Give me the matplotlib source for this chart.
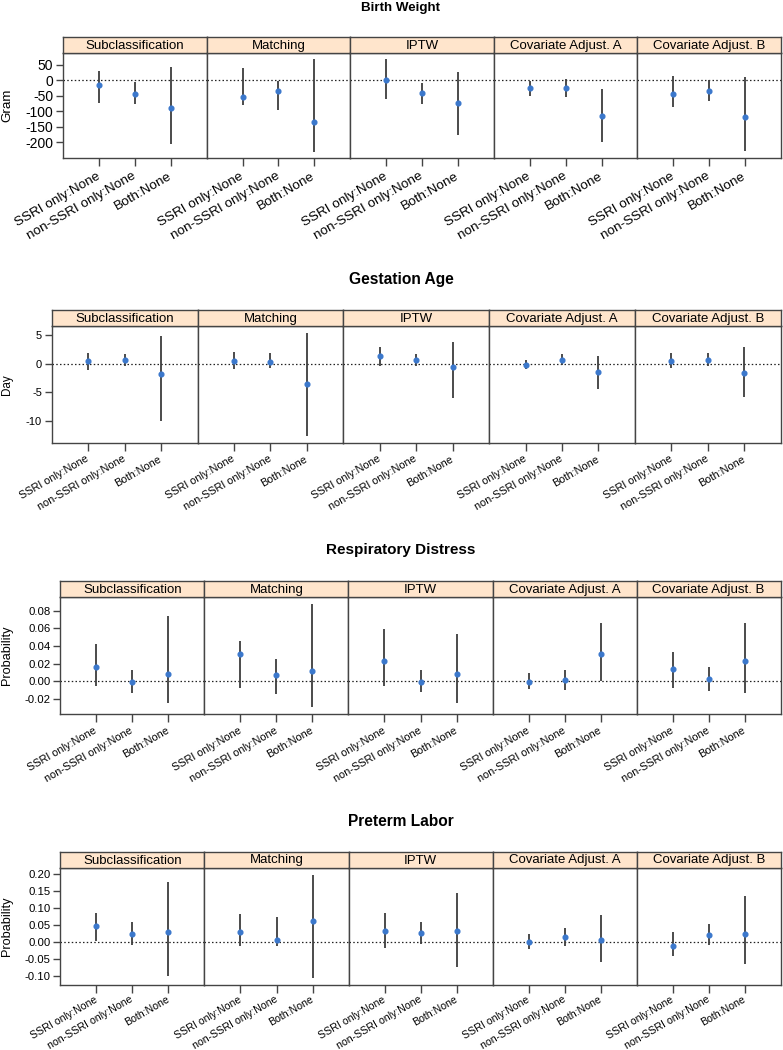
import numpy as np
import matplotlib
matplotlib.use("Agg")
import matplotlib.pyplot as plt

plt.rcParams['font.family'] = ['Liberation Sans', 'DejaVu Sans']
plt.rcParams['axes.unicode_minus'] = False

# --- Data ---
methods = ["Subclassification", "Matching", "IPTW", "Covariate Adjust. A", "Covariate Adjust. B"]
groups = ["SSRI only:None", "non-SSRI only:None", "Both:None"]

# Birth weight (gram): one row per method, one column per group
bw_est = [[-17, -44, -91], [-54, -35, -135], [2, -42, -72], [-26, -25, -116], [-43, -35, -119]]
bw_lo = [[-75, -78, -207], [-79, -95, -230], [-62, -77, -176], [-52, -55, -200], [-85, -66, -229]]
bw_hi = [[31, -6, 42], [38, -1, 67], [67, -8, 25], [-1, 4, -29], [15, 2, 9]]

# Gestation age (day)
ga_est = [[0.47, 0.7, -1.8], [0.52, 0.3, -3.54], [1.3, 0.7, -0.58], [-0.17, 0.7, -1.45], [0.42, 0.7, -1.57]]
ga_lo = [[-1.1, -0.45, -10.1], [-0.93, -0.8, -12.6], [-0.5, -0.5, -6.0], [-0.98, -0.3, -4.4], [-0.7, -0.35, -5.75]]
ga_hi = [[1.8, 1.75, 4.8], [2.0, 1.9, 5.3], [2.86, 1.75, 3.8], [0.6, 1.64, 1.3], [1.87, 1.87, 2.86]]

# Respiratory distress (probability)
rd_est = [[0.0166, -0.0011, 0.0087], [0.0313, 0.0068, 0.0117], [0.0227, -0.0004, 0.0087],
          [-0.0004, 0.0011, 0.031], [0.014, 0.0023, 0.0234]]
rd_lo = [[-0.0053, -0.0132, -0.0242], [-0.0072, -0.0147, -0.0287], [-0.0057, -0.0121, -0.0245],
         [-0.009, -0.0102, 0.0], [-0.0079, -0.0113, -0.0132]]
rd_hi = [[0.0427, 0.0125, 0.074], [0.0457, 0.0249, 0.0876], [0.0593, 0.0128, 0.0533],
         [0.0094, 0.0128, 0.0661], [0.0336, 0.0159, 0.0661]]

# Preterm labor (probability)
pl_est = [[0.0468, 0.0253, 0.0292], [0.0292, 0.0078, 0.0623], [0.0341, 0.0263, 0.0331],
          [0.001, 0.0146, 0.0078], [-0.0107, 0.0205, 0.0243]]
pl_lo = [[0.0049, -0.0088, -0.0993], [-0.0107, -0.0117, -0.1032], [-0.0175, -0.0058, -0.0711],
         [-0.0195, -0.0117, -0.0584], [-0.039, -0.0088, -0.0633]]
pl_hi = [[0.0847, 0.0594, 0.1773], [0.0828, 0.073, 0.1977], [0.0857, 0.0594, 0.1451],
         [0.0234, 0.0419, 0.0799], [0.0292, 0.0536, 0.1344]]

titles = ["Birth Weight", "Gestation Age", "Respiratory Distress", "Preterm Labor"]
ylabels = ["Gram", "Day", "Probability", "Probability"]
yticks = [[-200, -150, -100, -50, 0, 50],
          [-10, -5, 0, 5],
          [-0.02, 0.00, 0.02, 0.04, 0.06, 0.08],
          [-0.10, -0.05, 0.00, 0.05, 0.10, 0.15, 0.20]]
ytick_labels = [["-200", "-150", "-100", "-50", "0", "50"],
                ["-10", "-5", "0", "5"],
                ["-0.02", "0.00", "0.02", "0.04", "0.06", "0.08"],
                ["-0.10", "-0.05", "0.00", "0.05", "0.10", "0.15", "0.20"]]

outcomes = [(bw_est, bw_lo, bw_hi), (ga_est, ga_lo, ga_hi),
            (rd_est, rd_lo, rd_hi), (pl_est, pl_lo, pl_hi)]

# --- Layout in pixels: left, right, strip top, strip bottom, panel bottom, title y ---
W, H = 783, 1050
rows = [(63, 781, 37, 53, 158, 8),
        (51.7, 780.7, 310, 326, 443, 279),
        (60.3, 780.7, 581, 597, 713.7, 550),
        (60.3, 781, 851.7, 867.7, 984.7, 821)]
title_sizes = [9.6, 11.2, 11.0, 11.2]
tick_sizes = [10.0, 8.0, 8.2, 8.2]
xlab_sizes = [9.7, 7.8, 7.8, 7.6]
xlab_pads = [7.0, 5.5, 6.0, 4.5]
ylab_sizes = [9.6, 8.4, 9.2, 9.2]

strip_col = "#ffe5cc"
frame_col = "#444444"
bar_col = "#3d3d3d"
pt_col = "#3b78cc"

fig = plt.figure(figsize=(W / 100, H / 100), dpi=100)


def rect(l, r, top, bot):
    return [l / W, 1 - bot / H, (r - l) / W, (bot - top) / H]


for i, (est, lo, hi) in enumerate(outcomes):
    left, right, s_top, s_bot, p_bot, t_y = rows[i]
    pw = (right - left) / 5
    allv = np.array(lo + hi).ravel()
    vmin, vmax = allv.min(), allv.max()
    ext = 0.07 * (vmax - vmin)
    ylim = (vmin - ext, vmax + ext)

    fig.text(401 / W, 1 - t_y / H, titles[i], ha="center", va="center",
             fontsize=title_sizes[i], fontweight="bold")
    fig.text(7 / W, 1 - (s_bot + p_bot) / 2 / H, ylabels[i], rotation=90,
             ha="center", va="center", fontsize=ylab_sizes[i])

    for j in range(5):
        l = left + j * pw
        ax = fig.add_axes(rect(l, l + pw, s_bot, p_bot))
        sax = fig.add_axes(rect(l, l + pw, s_top, s_bot))
        sax.set_facecolor(strip_col)
        sax.set_xticks([])
        sax.set_yticks([])
        sax.text(0.5, 0.45, methods[j], ha="center", va="center",
                 fontsize=9.5, transform=sax.transAxes)
        for sp in sax.spines.values():
            sp.set_color(frame_col)
            sp.set_linewidth(1.0)

        x = np.arange(1, 4)
        ax.axhline(0, color="#222222", lw=0.9, ls=(0, (1.2, 1.8)), zorder=1)
        ax.vlines(x, lo[j], hi[j], color=bar_col, lw=1.3, zorder=2)
        ax.plot(x, est[j], "o", color=pt_col, ms=3.4, mec=pt_col, zorder=3)
        ax.set_xlim(0, 4)
        ax.set_ylim(*ylim)
        for sp in ax.spines.values():
            sp.set_color(frame_col)
            sp.set_linewidth(1.0)

        ax.set_xticks(x)
        ax.set_xticklabels(groups, rotation=30, ha="right", va="center",
                           rotation_mode="anchor", fontsize=xlab_sizes[i])
        ax.tick_params(axis="x", length=5.5, width=1.0, color=frame_col, pad=xlab_pads[i])
        if j == 0:
            ax.set_yticks(yticks[i])
            ax.set_yticklabels(ytick_labels[i], fontsize=tick_sizes[i])
            ax.tick_params(axis="y", length=5, width=1.0, color=frame_col, pad=2)
        else:
            ax.set_yticks([])

fig.savefig("out.png", dpi=100)
